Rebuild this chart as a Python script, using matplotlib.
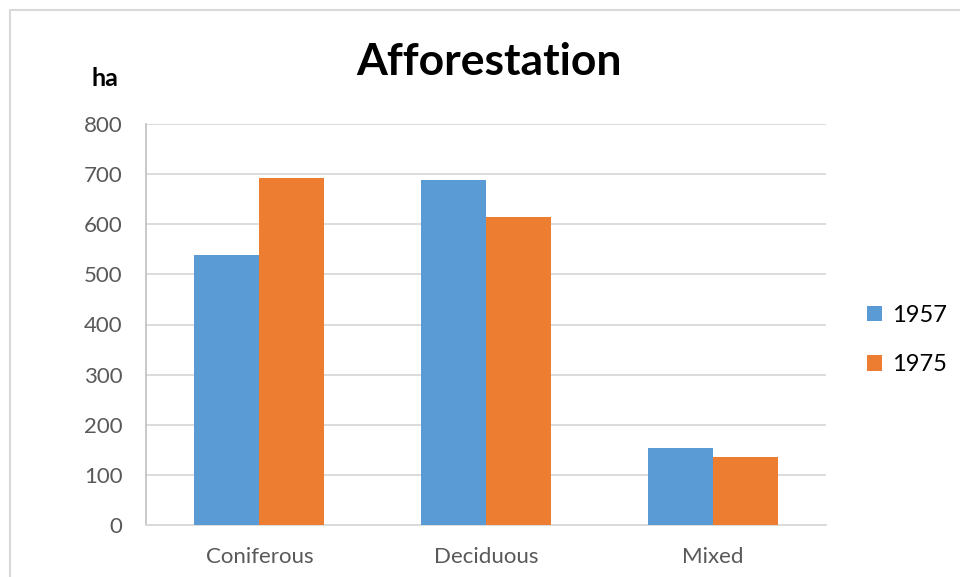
import matplotlib

matplotlib.use("Agg")

from matplotlib import pyplot as plt
from matplotlib.patches import Rectangle
import numpy as np

categories = ["Coniferous", "Deciduous", "Mixed"]
years = ["1957", "1975"]
values_1957 = [538, 688, 153]
values_1975 = [692, 614, 136]
y_ticks = [0, 100, 200, 300, 400, 500, 600, 700, 800]

blue = "#5B9BD5"
orange = "#ED7D31"
grid_grey = "#D9D9D9"
text_grey = "#595959"

plt.rcParams["font.family"] = ["Lato", "DejaVu Sans"]

fig = plt.figure(figsize=(9.6, 5.77), dpi=100)

# Chart frame (only top and left edges are visible in the crop).
fig.patches.append(
    Rectangle(
        (10 / 960, -0.1),
        1.2,
        1.1 - 10 / 577,
        transform=fig.transFigure,
        fill=False,
        edgecolor=grid_grey,
        linewidth=1.5,
    )
)

ax = fig.add_axes([146 / 960, 52 / 577, 680 / 960, 401 / 577])

x = np.arange(len(categories))
w = 0.287
ax.bar(x - w / 2, values_1957, w, color=blue, label=years[0], zorder=3)
ax.bar(x + w / 2, values_1975, w, color=orange, label=years[1], zorder=3)

ax.set_xlim(-0.5, len(categories) - 0.5)
ax.set_ylim(0, 800)
ax.set_yticks(y_ticks)
ax.set_xticks(x)
ax.set_xticklabels(categories)
ax.yaxis.grid(True, color=grid_grey, linewidth=1.3, zorder=0)
ax.set_axisbelow(True)

for side in ("top", "right"):
    ax.spines[side].set_visible(False)
ax.spines["left"].set_color("#BFBFBF")
ax.spines["bottom"].set_color(grid_grey)
ax.spines["left"].set_linewidth(1.2)
ax.spines["bottom"].set_linewidth(1.3)

ax.tick_params(axis="both", length=0, labelsize=16, labelcolor=text_grey)
ax.tick_params(axis="y", pad=17)
ax.tick_params(axis="x", pad=16)

fig.text(489 / 960, 1 - 62 / 577, "Afforestation", ha="center", va="center",
         fontsize=32, fontweight="bold", color="black")
fig.text(105 / 960, 1 - 79 / 577, "ha", ha="center", va="center",
         fontsize=18, fontweight="bold", color="black")

fig.legend(
    loc="center left",
    bbox_to_anchor=(867 / 960, 1 - 340 / 577),
    frameon=False,
    fontsize=17,
    borderpad=0,
    borderaxespad=0,
    handlelength=0.65,
    handleheight=0.65,
    handletextpad=0.4,
    labelspacing=1.2,
)

fig.savefig("out.png", dpi=100)
